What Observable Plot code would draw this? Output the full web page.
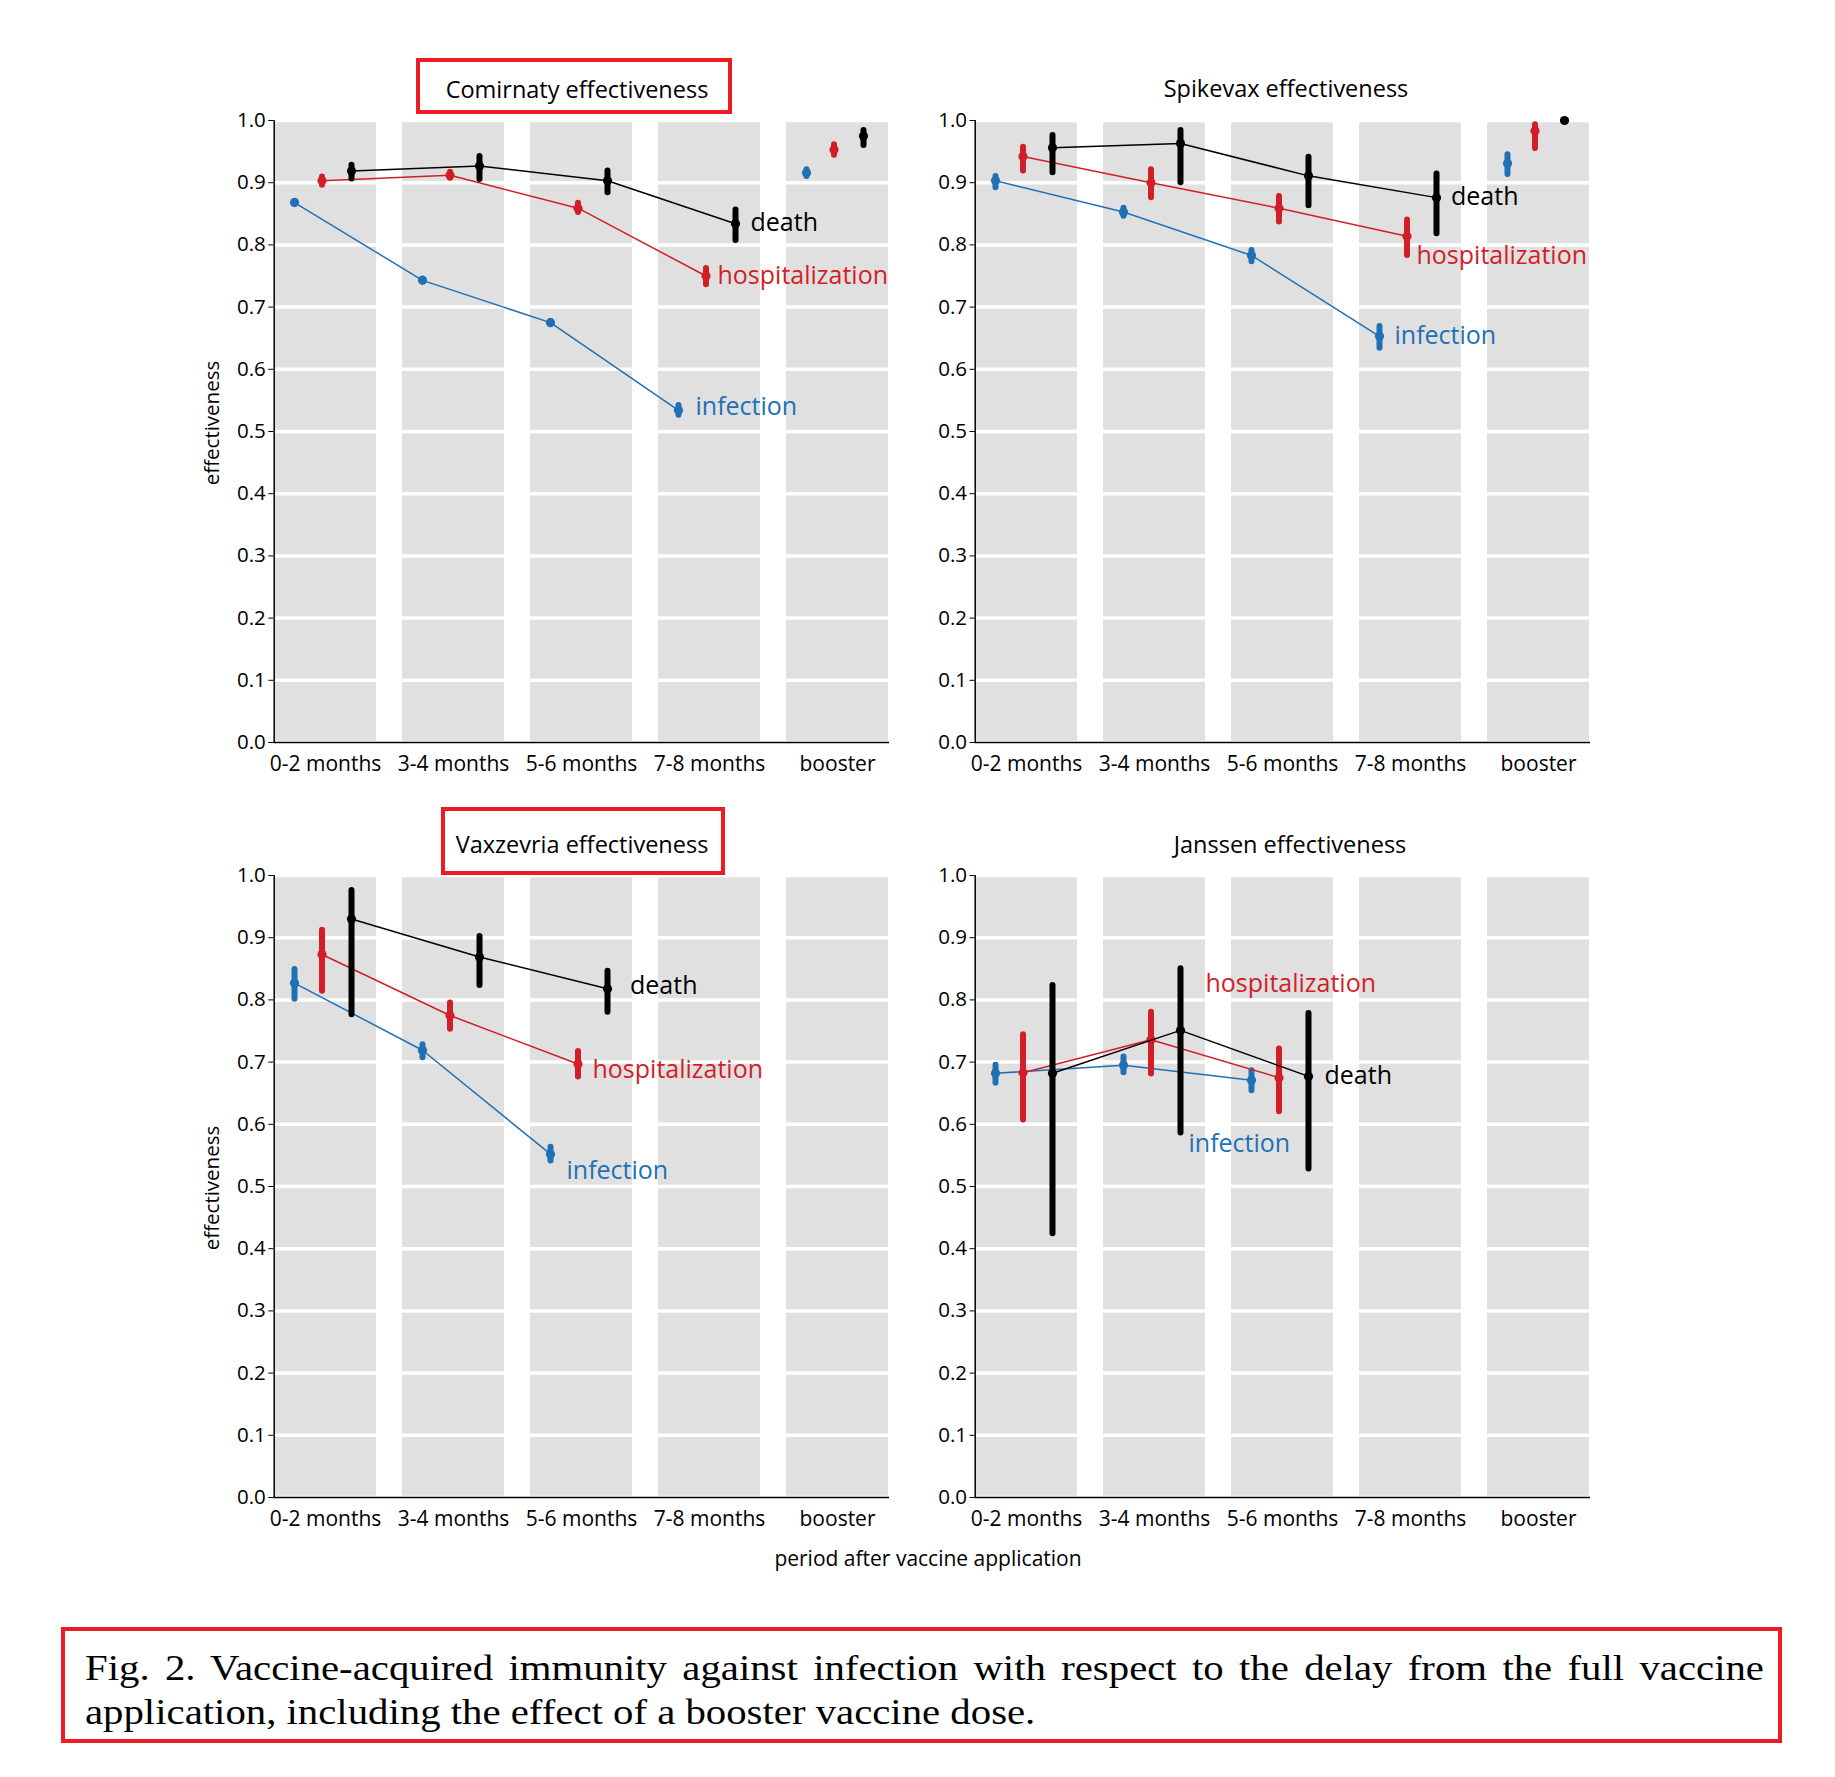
<!DOCTYPE html>
<html>
<head>
<meta charset="utf-8">
<script src="https://cdn.jsdelivr.net/npm/d3@7"></script>
<script src="https://cdn.jsdelivr.net/npm/@observablehq/plot@0.6"></script>
<style>
  html, body { margin: 0; padding: 0; background: white; }
  body { width: 1835px; height: 1777px; position: relative; overflow: hidden; font-family: "Open Sans", sans-serif; }
  .panel { position: absolute; }
  .title { position: absolute; transform: translate(-50%, -50%); font-size: 23.5px; color: #000; white-space: nowrap; }
  .ylab { position: absolute; transform: translate(-50%, -50%) rotate(-90deg); font-size: 20.5px; white-space: nowrap; }
  .xlab { position: absolute; transform: translate(-50%, -50%); font-size: 21px; white-space: nowrap; }
  .redbox { position: absolute; border: 4px solid #ed1c24; box-sizing: border-box; }
  .caption { position: absolute; font-family: "Liberation Serif", serif; font-size: 35px; color: #000; line-height: 44px; transform-origin: 0 0; }
</style>
</head>
<body>
<div id="root"></div>
<script>
// ---------- data ----------
const periods = ["0-2 months", "3-4 months", "5-6 months", "7-8 months", "booster"];
const yTicks = [0, 0.1, 0.2, 0.3, 0.4, 0.5, 0.6, 0.7, 0.8, 0.9, 1.0];
const seriesNames = ["infection", "hospitalization", "death"];

// Comirnaty
const comirnatyInfection   = [0.868, 0.743, 0.675, 0.534, 0.916];
const comirnatyInfectionLo = [0.866, 0.741, 0.673, 0.526, 0.910];
const comirnatyInfectionHi = [0.870, 0.745, 0.677, 0.542, 0.921];
const comirnatyHosp   = [0.903, 0.912, 0.859, 0.750, 0.953];
const comirnatyHospLo = [0.896, 0.907, 0.852, 0.736, 0.944];
const comirnatyHospHi = [0.909, 0.917, 0.867, 0.762, 0.961];
const comirnatyDeath   = [0.919, 0.927, 0.903, 0.834, 0.975];
const comirnatyDeathLo = [0.906, 0.905, 0.884, 0.807, 0.960];
const comirnatyDeathHi = [0.928, 0.942, 0.919, 0.856, 0.984];

// Spikevax
const spikevaxInfection   = [0.903, 0.853, 0.783, 0.653, 0.931];
const spikevaxInfectionLo = [0.892, 0.846, 0.773, 0.634, 0.913];
const spikevaxInfectionHi = [0.910, 0.859, 0.791, 0.669, 0.945];
const spikevaxHosp   = [0.942, 0.900, 0.859, 0.814, 0.983];
const spikevaxHospLo = [0.919, 0.876, 0.837, 0.783, 0.955];
const spikevaxHospHi = [0.957, 0.921, 0.878, 0.840, 0.993];
const spikevaxDeath   = [0.956, 0.963, 0.911, 0.876, 1.000];
const spikevaxDeathLo = [0.916, 0.900, 0.863, 0.818, 1.000];
const spikevaxDeathHi = [0.976, 0.984, 0.941, 0.914, 1.000];

// Vaxzevria
const vaxzevriaInfection   = [0.827, 0.719, 0.552, null, null];
const vaxzevriaInfectionLo = [0.801, 0.707, 0.541, null, null];
const vaxzevriaInfectionHi = [0.849, 0.728, 0.563, null, null];
const vaxzevriaHosp   = [0.873, 0.775, 0.697, null, null];
const vaxzevriaHospLo = [0.814, 0.753, 0.676, null, null];
const vaxzevriaHospHi = [0.912, 0.795, 0.717, null, null];
const vaxzevriaDeath   = [0.930, 0.869, 0.818, null, null];
const vaxzevriaDeathLo = [0.776, 0.823, 0.780, null, null];
const vaxzevriaDeathHi = [0.976, 0.902, 0.846, null, null];

// Janssen
const janssenInfection   = [0.682, 0.695, 0.671, null, null];
const janssenInfectionLo = [0.666, 0.683, 0.654, null, null];
const janssenInfectionHi = [0.695, 0.708, 0.686, null, null];
const janssenHosp   = [0.683, 0.736, 0.675, null, null];
const janssenHospLo = [0.607, 0.681, 0.620, null, null];
const janssenHospHi = [0.744, 0.780, 0.721, null, null];
const janssenDeath   = [0.682, 0.751, 0.677, null, null];
const janssenDeathLo = [0.424, 0.586, 0.528, null, null];
const janssenDeathHi = [0.823, 0.850, 0.778, null, null];

// series label anchors (period, value)
const comirnatyLabelPeriods = ["7-8 months", "7-8 months", "7-8 months"];
const comirnatyLabelValues  = [0.539, 0.750, 0.836];
const spikevaxLabelPeriods  = ["7-8 months", "7-8 months", "7-8 months"];
const spikevaxLabelValues   = [0.653, 0.782, 0.877];
const vaxzevriaLabelPeriods = ["5-6 months", "5-6 months", "5-6 months"];
const vaxzevriaLabelValues  = [0.525, 0.687, 0.822];
const janssenLabelPeriods   = ["3-4 months", "3-4 months", "5-6 months"];
const janssenLabelValues    = [0.569, 0.825, 0.677];

const panelTitles = ["Comirnaty effectiveness", "Spikevax effectiveness", "Vaxzevria effectiveness", "Janssen effectiveness"];
const xTitle = "period after vaccine application";
const yTitle = "effectiveness";
const captionLine1 = "Fig. 2. Vaccine-acquired immunity against infection with respect to the delay from the full vaccine";
const captionLine2 = "application, including the effect of a booster vaccine dose.";

// ---------- styles / layout ----------
const COLORS = {infection: "#2070b6", hospitalization: "#d21e27", death: "#000000"};
const OFFSETS = {infection: -31, hospitalization: -3.5, death: 26};

const panels = [
  {title: panelTitles[0], inf: [comirnatyInfection, comirnatyInfectionLo, comirnatyInfectionHi], hosp: [comirnatyHosp, comirnatyHospLo, comirnatyHospHi], death: [comirnatyDeath, comirnatyDeathLo, comirnatyDeathHi],
   labels: [comirnatyLabelPeriods, comirnatyLabelValues], labelDx: [-14, 8, 41],
   left: 180, top: 40, ml: 93.3, mr: 21, titleX: 577, titleY: 89, ylabY: 423},
  {title: panelTitles[1], inf: [spikevaxInfection, spikevaxInfectionLo, spikevaxInfectionHi], hosp: [spikevaxHosp, spikevaxHospLo, spikevaxHospHi], death: [spikevaxDeath, spikevaxDeathLo, spikevaxDeathHi],
   labels: [spikevaxLabelPeriods, spikevaxLabelValues], labelDx: [-16, 6, 40.5],
   left: 880, top: 40, ml: 94.5, mr: 20, titleX: 1286, titleY: 88},
  {title: panelTitles[2], inf: [vaxzevriaInfection, vaxzevriaInfectionLo, vaxzevriaInfectionHi], hosp: [vaxzevriaHosp, vaxzevriaHospLo, vaxzevriaHospHi], death: [vaxzevriaDeath, vaxzevriaDeathLo, vaxzevriaDeathHi],
   labels: [vaxzevriaLabelPeriods, vaxzevriaLabelValues], labelDx: [-15, 11, 48.5],
   left: 180, top: 795, ml: 93.3, mr: 21, titleX: 582, titleY: 844, ylabY: 1188},
  {title: panelTitles[3], inf: [janssenInfection, janssenInfectionLo, janssenInfectionHi], hosp: [janssenHosp, janssenHospLo, janssenHospHi], death: [janssenDeath, janssenDeathLo, janssenDeathHi],
   labels: [janssenLabelPeriods, janssenLabelValues], labelDx: [34, 51, 42],
   left: 880, top: 795, ml: 94.5, mr: 20, titleX: 1290, titleY: 844}
];

const W = 730, H = 770, MT = 80, MB = 68;
const root = document.getElementById("root");

function rowsFor(arr) {
  const [v, lo, hi] = arr;
  return periods.map((p, i) => ({period: p, value: v[i], lo: lo[i], hi: hi[i]})).filter(d => d.value != null);
}

panels.forEach((pn) => {
  const innerW = W - pn.ml - pn.mr;
  const bw = innerW / 4.8 * 0.8;
  const seriesMarks = [];
  const sets = {infection: pn.inf, hospitalization: pn.hosp, death: pn.death};
  for (const name of seriesNames) {
    const rows = rowsFor(sets[name]);
    const c = COLORS[name], off = OFFSETS[name];
    seriesMarks.push(
      Plot.line(rows.filter(d => d.period !== "booster"), {x: "period", y: "value", dx: off, stroke: c, strokeWidth: 1.5}),
      Plot.ruleX(rows, {x: "period", y1: "lo", y2: "hi", dx: off, stroke: c, strokeWidth: 6, strokeLinecap: "round"}),
      Plot.dot(rows, {x: "period", y: "value", dx: off, r: 4.6, fill: c, stroke: null})
    );
  }
  const labelMarks = seriesNames.map((name, k) =>
    Plot.text([{period: pn.labels[0][k], value: pn.labels[1][k], text: name}], {
      x: "period", y: "value", text: "text", dx: pn.labelDx[k], textAnchor: "start",
      fill: COLORS[name], fontSize: 25, fontFamily: "Open Sans"
    })
  );
  const chart = Plot.plot({
    width: W, height: H,
    marginLeft: pn.ml, marginRight: pn.mr, marginTop: MT, marginBottom: MB,
    style: {fontFamily: "Open Sans", fontSize: "21px", background: "transparent", color: "#000", overflow: "visible"},
    x: {type: "band", domain: periods, paddingInner: 0.2, paddingOuter: 0, align: 0.5},
    y: {domain: [0, 1]},
    marks: [
      Plot.barY(periods, {x: d => d, y1: 0, y2: 1, fill: "#e0e0e0"}),
      Plot.ruleY(yTicks, {stroke: "white", strokeWidth: 3.5}),
      Plot.ruleY([0], {stroke: "black", strokeWidth: 1.5}),
      Plot.ruleX([periods[0]], {dx: -bw / 2, stroke: "black", strokeWidth: 1.5}),
      Plot.axisY(yTicks, {tickFormat: d3.format(".1f"), tickSize: 5, tickPadding: 3, label: null, fontSize: 20.5, stroke: "black"}),
      Plot.axisX({tickSize: 0, tickPadding: 14, label: null, fontSize: 21}),
      ...seriesMarks,
      ...labelMarks
    ]
  });
  chart.classList.add("panel");
  chart.style.left = pn.left + "px";
  chart.style.top = pn.top + "px";
  root.appendChild(chart);

  const t = document.createElement("div");
  t.className = "title";
  t.textContent = pn.title;
  t.style.left = pn.titleX + "px";
  t.style.top = pn.titleY + "px";
  root.appendChild(t);

  if (pn.ylabY != null) {
    const yl = document.createElement("div");
    yl.className = "ylab";
    yl.textContent = yTitle;
    yl.style.left = "210.5px";
    yl.style.top = pn.ylabY + "px";
    root.appendChild(yl);
  }
});

// highlight boxes (annotations in the reference)
[[416, 58, 316, 56], [441, 807, 284, 68]].forEach(([l, t, w, h]) => {
  const b = document.createElement("div");
  b.className = "redbox";
  Object.assign(b.style, {left: l + "px", top: t + "px", width: w + "px", height: h + "px"});
  root.appendChild(b);
});

const xl = document.createElement("div");
xl.className = "xlab";
xl.textContent = xTitle;
xl.style.left = "928px";
xl.style.top = "1558px";
root.appendChild(xl);

// caption
const capBox = document.createElement("div");
capBox.className = "redbox";
Object.assign(capBox.style, {left: "61px", top: "1627px", width: "1721px", height: "116px"});
root.appendChild(capBox);

const SX = 1.165;
const cap = document.createElement("div");
cap.className = "caption";
Object.assign(cap.style, {left: "85px", top: "1647px", width: (1679 / SX) + "px", transform: `scaleX(${SX})`});
const l1 = document.createElement("div");
l1.textContent = captionLine1;
l1.style.textAlign = "justify";
l1.style.textAlignLast = "justify";
const l2 = document.createElement("div");
l2.textContent = captionLine2;
cap.appendChild(l1);
cap.appendChild(l2);
root.appendChild(cap);
</script>
</body>
</html>
